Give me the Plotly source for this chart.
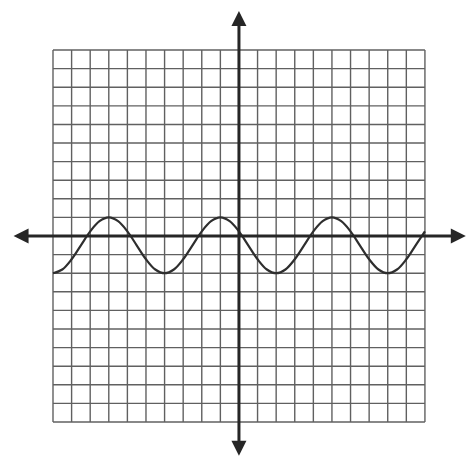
#!/usr/bin/env python3


# +
# import(s)
# -
import plotly.graph_objs as go


# +
# data
# -
grid_ticks = list(range(-10, 11))

curve_x = [-10, -9.5, -9, -8.5, -8, -7.5, -7, -6.5, -6, -5.5, -5, -4.5, -4, -3.5, -3, -2.5, -2,
           -1.5, -1, -0.5, 0, 0.5, 1, 1.5, 2, 2.5, 3, 3.5, 4, 4.5, 5, 5.5, 6, 6.5, 7, 7.5, 8,
           8.5, 9, 9.5, 10]
curve_y = [-2, -1.8, -1.25, -0.5, 0.25, 0.8, 1, 0.8, 0.25, -0.5, -1.25, -1.8, -2, -1.8, -1.25, -0.5, 0.25,
           0.8, 1, 0.8, 0.25, -0.5, -1.25, -1.8, -2, -1.8, -1.25, -0.5, 0.25, 0.8, 1, 0.8, 0.25, -0.5, -1.25, -1.8, -2,
           -1.8, -1.25, -0.5, 0.25]

x_axis_ends = [-12.2, 12.2]
y_axis_ends = [-11.9, 12.1]


# +
# function: plot_graph()
# -
def plot_graph():

    # grid lines
    _shapes = []
    for _t in grid_ticks:
        _shapes.append(dict(type='line', xref='x', yref='y', x0=_t, x1=_t, y0=grid_ticks[0], y1=grid_ticks[-1],
                            line=dict(color='#606060', width=1.4), layer='below'))
        _shapes.append(dict(type='line', xref='x', yref='y', y0=_t, y1=_t, x0=grid_ticks[0], x1=grid_ticks[-1],
                            line=dict(color='#606060', width=1.4), layer='below'))

    # axes with arrows at both ends
    _annotations = [
        dict(x=x_axis_ends[1], y=0, ax=x_axis_ends[0], ay=0, xref='x', yref='y', axref='x', ayref='y',
             text='', showarrow=True, arrowhead=2, arrowside='end+start', arrowsize=1, arrowwidth=3,
             arrowcolor='#262626', standoff=0, startstandoff=0),
        dict(x=0, y=y_axis_ends[1], ax=0, ay=y_axis_ends[0], xref='x', yref='y', axref='x', ayref='y',
             text='', showarrow=True, arrowhead=2, arrowside='end+start', arrowsize=1, arrowwidth=3,
             arrowcolor='#262626', standoff=0, startstandoff=0),
    ]

    # the curve
    curve = go.Scatter(x=curve_x, y=curve_y, mode='lines', line=dict(color='#2e2e2e', width=2.2, shape='spline'),
                       hoverinfo='skip', showlegend=False)

    fig = go.Figure(data=[curve])
    fig.update_layout(width=469, height=462, margin=dict(l=0, r=0, t=0, b=0),
                      paper_bgcolor='white', plot_bgcolor='white', showlegend=False,
                      shapes=_shapes, annotations=_annotations,
                      xaxis=dict(range=[-12.85, 12.37], visible=False, showgrid=False, zeroline=False, fixedrange=True),
                      yaxis=dict(range=[-12.15, 12.69], visible=False, showgrid=False, zeroline=False, fixedrange=True))
    fig.write_html('out.html', config=dict(displayModeBar=False),
                   post_script="document.body.style.margin='0';")


# +
# main()
# -
if __name__ == '__main__':
    plot_graph()
